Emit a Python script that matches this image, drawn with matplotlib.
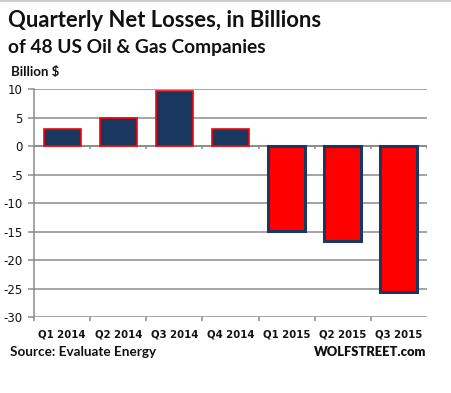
import matplotlib
matplotlib.use("Agg")
import matplotlib.pyplot as plt
from matplotlib.lines import Line2D

categories = ["Q1 2014", "Q2 2014", "Q3 2014", "Q4 2014", "Q1 2015", "Q2 2015", "Q3 2015"]
values = [2.9, 5.0, 9.6, 2.9, -14.9, -16.6, -25.6]
yticks = [10, 5, 0, -5, -10, -15, -20, -25, -30]

NAVY = "#1a3760"
RED = "#ff0000"
GRID = "#8c8c8c"

fig = plt.figure(figsize=(4.51, 3.93), dpi=100)
ax = fig.add_axes([34/451, 1-317/393, 393/451, 228/393])

xs = list(range(len(categories)))
for x, v in zip(xs, values):
    if v >= 0:
        ax.bar(x, v, width=0.66, color=NAVY, edgecolor=RED, linewidth=1.2, zorder=3)
    else:
        ax.bar(x, v, width=0.66, color=RED, edgecolor=NAVY, linewidth=2.2, zorder=3)

ax.set_xlim(-0.5, len(categories) - 0.5)
ax.set_ylim(-30, 10)
ax.set_yticks(yticks)
ax.set_yticklabels([str(t) for t in yticks], fontsize=8.5, family="DejaVu Sans", color="#111111")
ax.yaxis.grid(True, color=GRID, linewidth=1.1, zorder=0)
ax.set_axisbelow(True)
for s in ["top", "right", "bottom"]:
    ax.spines[s].set_visible(False)
ax.spines["left"].set_color(GRID)
ax.spines["left"].set_linewidth(1.1)
ax.tick_params(axis="y", direction="out", length=4, color=GRID, width=1.1, pad=4)

bounds = [i - 0.5 for i in range(len(categories))]
ax.set_xticks(bounds)
ax.set_xticklabels([])
ax.tick_params(axis="x", which="major", direction="out", length=3, color=GRID, width=1.1)
ax.set_xticks(xs, minor=True)
ax.set_xticklabels(categories, minor=True, fontsize=7.3, fontweight="bold", family="DejaVu Sans", color="#111111")
ax.tick_params(axis="x", which="minor", length=0, pad=9)

# horizontal axis line at zero with tick marks
ax.axhline(0, color=GRID, linewidth=1.3, zorder=2)
ax.vlines(bounds[1:] + [len(categories) - 0.5], 0, -0.6, color=GRID, linewidth=1.1, zorder=2)

fig.add_artist(Line2D([0, 1], [0.998, 0.998], color="#cccccc", linewidth=1.5))

fig.text(8/451, 1-27/393, "Quarterly Net Losses, in Billions", fontsize=15.8, fontweight="bold",
         family="Lato", color="#111111", va="baseline")
fig.text(8/451, 1-53/393, "of 48 US Oil & Gas Companies", fontsize=13.8, fontweight="bold",
         family="Lato", color="#111111", va="baseline")
fig.text(11/451, 1-76/393, "Billion $", fontsize=9.5, fontweight="bold",
         family="Lato", color="#111111", va="baseline")
fig.text(10/451, 1-352/393, "Source: Evaluate Energy", fontsize=9.7, fontweight="bold",
         family="Lato", color="#111111", va="center")
fig.text(426/451, 1-352/393, "WOLFSTREET.com", fontsize=9.3, fontweight="heavy",
         family="Lato", color="#111111", va="center", ha="right")

fig.savefig("out.png", dpi=100)
